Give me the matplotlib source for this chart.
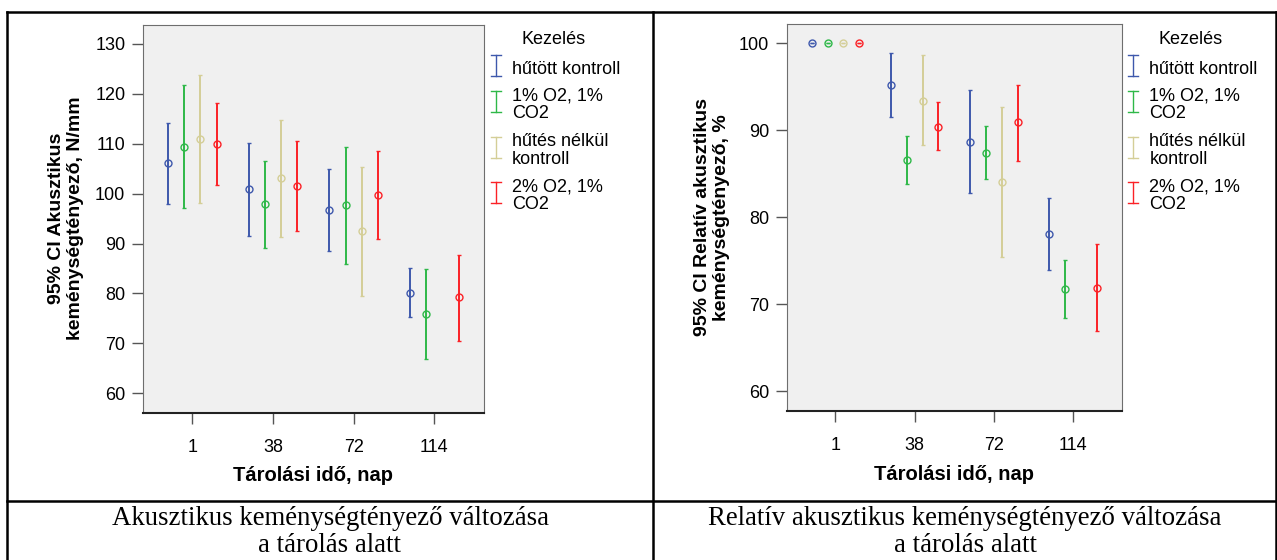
import numpy as np
import matplotlib
matplotlib.use("Agg")
import matplotlib.pyplot as plt
from matplotlib.lines import Line2D

W, H = 1277, 560

# Data (95% CI error bars)
days = ["1", "38", "72", "114"]
treatments = ["hűtött kontroll", "1% O2, 1%\nCO2", "hűtés nélkül\nkontroll", "2% O2, 1%\nCO2"]
colors = ["#3E58AC", "#2EB848", "#D4CE97", "#FB2126"]

# Akusztikus keménységtényező, N/mm
ak_mean = [[106.1, 100.9, 96.7, 80.1],
           [109.4, 97.9, 97.7, 75.9],
           [111.0, 103.1, 92.5, np.nan],
           [110.0, 101.6, 99.7, 79.2]]
ak_low = [[98.0, 91.6, 88.5, 75.2],
          [97.1, 89.1, 86.0, 66.8],
          [98.1, 91.4, 79.5, np.nan],
          [101.8, 92.5, 90.9, 70.5]]
ak_high = [[114.2, 110.2, 105.0, 85.0],
           [121.7, 106.6, 109.4, 84.9],
           [123.7, 114.7, 105.4, np.nan],
           [118.2, 110.6, 108.6, 87.7]]

# Relatív akusztikus keménységtényező, %
rel_mean = [[100.0, 95.2, 88.7, 78.1],
            [100.0, 86.6, 87.4, 71.7],
            [100.0, 93.4, 84.0, np.nan],
            [100.0, 90.4, 90.9, 71.9]]
rel_low = [[100.0, 91.5, 82.8, 73.9],
           [100.0, 83.8, 84.4, 68.4],
           [100.0, 88.3, 75.4, np.nan],
           [100.0, 87.7, 86.5, 66.9]]
rel_high = [[100.0, 98.9, 94.6, 82.2],
            [100.0, 89.3, 90.5, 75.1],
            [100.0, 98.7, 92.7, np.nan],
            [100.0, 93.2, 95.2, 76.9]]

captions = ["Akusztikus keménységtényező változása\na tárolás alatt",
            "Relatív akusztikus keménységtényező változása\na tárolás alatt"]

plt.rcParams["font.family"] = ["Liberation Sans", "DejaVu Sans"]


def fx(px):
    return px / W


def fy(py):
    return 1 - py / H


def draw_panel(ax, mean, low, high, ylim, yticks, ylabel):
    ax.set_facecolor("#F0F0F0")
    offsets = [-0.3, -0.1, 0.1, 0.3]
    base = np.arange(len(days))
    for i in range(len(treatments)):
        m = np.array(mean[i])
        lo = np.array(low[i])
        hi = np.array(high[i])
        ax.errorbar(base + offsets[i], m, yerr=[m - lo, hi - m], fmt="o",
                    mfc="none", mec=colors[i], ms=5, mew=1.0,
                    ecolor=colors[i], elinewidth=1.4, capsize=1.6, capthick=1.4)
    ax.set_xlim(-0.615, 3.615)
    ax.set_ylim(*ylim)
    ax.set_xticks(base)
    ax.set_xticklabels(days)
    ax.set_yticks(yticks)
    ax.tick_params(axis="both", direction="out", length=8, width=1,
                   color="#555555", labelsize=13)
    ax.tick_params(axis="x", pad=11)
    ax.tick_params(axis="y", pad=4.5)
    for s in ["left", "top", "right"]:
        ax.spines[s].set_color("#6e6e6e")
        ax.spines[s].set_linewidth(0.8)
    ax.spines["bottom"].set_color("#222222")
    ax.spines["bottom"].set_linewidth(1.5)
    ax.set_xlabel("Tárolási idő, nap", fontsize=14.5, fontweight="bold")
    ax.xaxis.label.set_va("center")
    ax.set_ylabel(ylabel, fontsize=14, fontweight="bold", linespacing=1.15)
    ax.yaxis.label.set_va("center")


def draw_legend(fig, icon_x, text_x, title_x):
    fig.text(fx(title_x), fy(40), "Kezelés", fontsize=13, ha="center", va="center")
    icon_c = [65.5, 101.3, 147, 192.2]
    for i, lab in enumerate(treatments):
        c = icon_c[i]
        top, bot = c - 10.5, c + 10.5
        fig.add_artist(Line2D([fx(icon_x), fx(icon_x)], [fy(top), fy(bot)],
                              color=colors[i], lw=1.0, transform=fig.transFigure))
        for yy in (top, bot):
            fig.add_artist(Line2D([fx(icon_x - 5), fx(icon_x + 5)], [fy(yy), fy(yy)],
                                  color=colors[i], lw=1.0, transform=fig.transFigure))
        fig.text(fx(text_x), fy(c + 3.5), lab, fontsize=13, ha="left", va="center",
                 linespacing=1.0)


fig = plt.figure(figsize=(W / 100, H / 100), dpi=100)

ax1 = fig.add_axes([fx(142.7), fy(412.7), (484 - 142.7) / W, (412.7 - 24.5) / H])
draw_panel(ax1, ak_mean, ak_low, ak_high, (56.1, 133.9), np.arange(60, 131, 10),
           "95% CI Akusztikus\nkeménységtényező, N/mm")
ax1.xaxis.set_label_coords(0.5, -(475 - 412.7) / (412.7 - 24.5))
ax1.yaxis.set_label_coords((66 - 142.7) / (484 - 142.7), 0.5)

ax2 = fig.add_axes([fx(786.7), fy(410.5), (1122 - 786.7) / W, (410.5 - 24) / H])
draw_panel(ax2, rel_mean, rel_low, rel_high, (57.76, 102.22), np.arange(60, 101, 10),
           "95% CI Relatív akusztikus\nkeménységtényező, %")
ax2.xaxis.set_label_coords(0.5, -(475 - 410.5) / (410.5 - 24))
ax2.yaxis.set_label_coords((711.7 - 786.7) / (1122 - 786.7), 0.5)

draw_legend(fig, 495.5, 511.7, 554)
draw_legend(fig, 1133, 1149.3, 1191)

# table frame around the two figures
frame = dict(color="black", lw=1.8, transform=fig.transFigure)
fig.add_artist(Line2D([fx(7), fx(1277)], [fy(12), fy(12)], **frame))
fig.add_artist(Line2D([fx(7), fx(7)], [fy(12), fy(560)], **frame))
fig.add_artist(Line2D([fx(653), fx(653)], [fy(12), fy(560)], **frame))
fig.add_artist(Line2D([fx(1276), fx(1276)], [fy(12), fy(560)], **frame))
fig.add_artist(Line2D([fx(7), fx(1277)], [fy(501), fy(501)], **frame))

fig.text(fx(330), fy(532), captions[0], fontsize=19.3, ha="center", va="center",
         family=["Liberation Serif", "DejaVu Serif"], linespacing=1.1)
fig.text(fx(965), fy(532), captions[1], fontsize=19.3, ha="center", va="center",
         family=["Liberation Serif", "DejaVu Serif"], linespacing=1.1)

fig.savefig("out.png", dpi=100)
